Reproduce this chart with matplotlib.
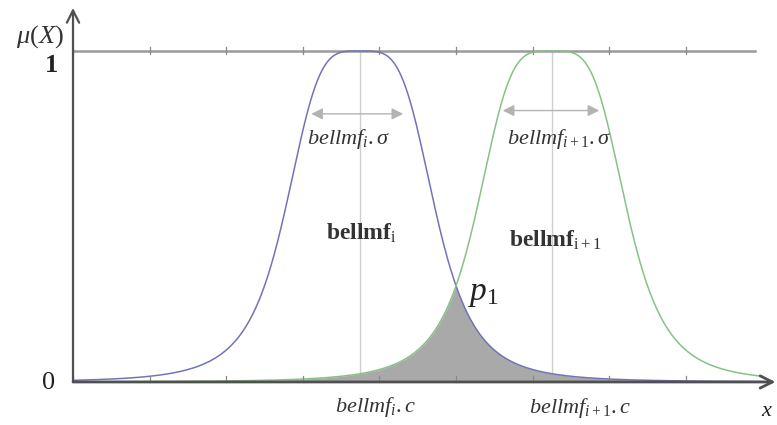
import numpy as np
import matplotlib
matplotlib.use("Agg")
import matplotlib.pyplot as plt

plt.rcParams["mathtext.fontset"] = "custom"
plt.rcParams["mathtext.rm"] = "Liberation Serif"
plt.rcParams["mathtext.it"] = "Liberation Serif:italic"
plt.rcParams["mathtext.bf"] = "Liberation Serif:bold"

# Generalized bell membership functions: 1 / (1 + |(x - c)/a|^(2b))
centers = [3.75, 6.25]
widths = [1.0, 1.0]
slopes = [2.0, 2.0]
curve_colors = ["#7373b9", "#86c286"]
tick_pos = [0, 1, 2, 3, 4, 5, 6, 7, 8]
x_end = 9.0


def bell(x, c, a, b):
    return 1.0 / (1.0 + np.abs((x - c) / a) ** (2 * b))


fig = plt.figure(figsize=(7.77, 4.25), dpi=100)
ax = fig.add_axes([0, 0, 1, 1])
ax.set_xlim(-0.953, 9.19)
ax.set_ylim(-0.130, 1.154)
ax.axis("off")

x = np.linspace(0, x_end, 2000)
mu1 = bell(x, centers[0], widths[0], slopes[0])
mu2 = bell(x, centers[1], widths[1], slopes[1])

# overlap region of the two sets
ax.fill_between(x, 0, np.minimum(mu1, mu2), color="#a9a9a9", lw=0, zorder=2)

# centre lines
for c in centers:
    ax.plot([c, c], [0, 1], color="#cfcfcf", lw=1.0, zorder=1)

ax.plot(x, mu1, color=curve_colors[0], lw=1.1, zorder=3)
ax.plot(x, mu2, color=curve_colors[1], lw=1.1, zorder=3)

# level mu = 1 with small ticks
ax.plot([0, 8.9], [1, 1], color="#9a9a9a", lw=1.8, zorder=1)
for t in tick_pos:
    ax.plot([t, t], [0.99, 1.012], color="#8a8a8a", lw=0.9, zorder=1)
    ax.plot([t, t], [0.0, 0.018], color="#8a8a8a", lw=0.9, zorder=4)

# axes with arrows
ax.annotate("", xy=(9.17, 0), xytext=(0, 0),
            arrowprops=dict(arrowstyle="->", color="#505050", lw=2.0,
                            mutation_scale=22, shrinkA=0, shrinkB=0), zorder=5)
ax.annotate("", xy=(0, 1.13), xytext=(0, 0),
            arrowprops=dict(arrowstyle="->", color="#505050", lw=1.6,
                            mutation_scale=22, shrinkA=0, shrinkB=0), zorder=5)

# spread arrows
spread = [(centers[0] - 0.64, centers[0] + 0.56, 0.81),
          (centers[1] - 0.64, centers[1] + 0.62, 0.82)]
for x0, x1, yy in spread:
    ax.annotate("", xy=(x1, yy), xytext=(x0, yy),
                arrowprops=dict(arrowstyle="<|-|>", color="#b3b3b3", lw=1.0,
                                mutation_scale=17, shrinkA=0, shrinkB=0), zorder=4)

# texts
ax.text(-0.12, 1.045, r"$\mu(X)$", fontsize=19, ha="right", va="center", color="#333333")
ax.text(-0.19, 0.955, "1", fontsize=19, fontweight="bold", family="Liberation Serif",
        ha="right", va="center", color="#222222")
ax.text(-0.23, -0.003, "0", fontsize=19, family="Liberation Serif",
        ha="right", va="center", color="#222222")

ax.text(centers[0] - 0.15, 0.735, r"$bellmf_i.\sigma$", fontsize=16,
        ha="center", va="center", color="#333333")
ax.text(centers[1] + 0.1, 0.735, r"$bellmf_{i+1}.\sigma$", fontsize=16,
        ha="center", va="center", color="#333333")

ax.text(centers[0] + 0.02, 0.45, r"$\mathbf{bellmf}_\mathrm{i}$", fontsize=17,
        ha="center", va="center", color="#333333")
ax.text(centers[1] + 0.05, 0.43, r"$\mathbf{bellmf}_\mathrm{i+1}$", fontsize=17,
        ha="center", va="center", color="#333333")

ax.text(5.15, 0.27, r"$p_1$", fontsize=24, ha="left", va="center", color="#222222")

ax.text(centers[0] + 0.2, -0.075, r"$bellmf_i.c$", fontsize=16,
        ha="center", va="center", color="#333333")
ax.text(centers[1] + 0.37, -0.08, r"$bellmf_{i+1}.c$", fontsize=16,
        ha="center", va="center", color="#333333")

ax.text(8.98, -0.085, r"$x$", fontsize=16, ha="left", va="center", color="#222222")

fig.savefig("out.png", dpi=100)
